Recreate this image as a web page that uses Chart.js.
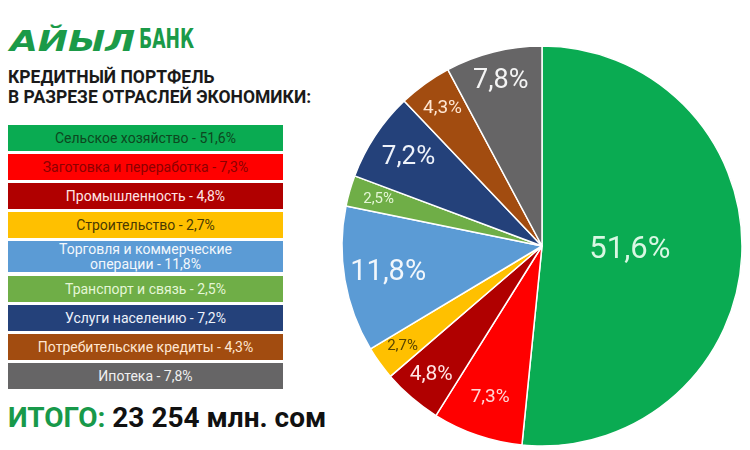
<!DOCTYPE html>
<html>
<head>
<meta charset="utf-8">
<script src="https://cdn.jsdelivr.net/npm/chart.js@4.4.0/dist/chart.umd.min.js"></script>
<style>
  html, body { margin: 0; padding: 0; background: #fff; }
  body { width: 750px; height: 450px; overflow: hidden; position: relative; font-family: Roboto, "Noto Sans", sans-serif; }
  #pie { position: absolute; left: 0; top: 0; }
  .logo { position: absolute; left: 10px; top: 16px; color: #1b9a48; white-space: nowrap; }
  .logo .name { font-family: "DejaVu Sans", sans-serif; font-weight: bold; font-style: italic; font-size: 36px; display: inline-block; transform: scaleY(0.8); transform-origin: left bottom; }
  .logo .bank { font-family: "Liberation Sans Narrow", "DejaVu Sans Condensed", sans-serif; font-weight: bold; font-size: 24px; display: inline-block; margin-left: 4px; transform: scaleX(0.8) scaleY(1.1); transform-origin: left bottom; }
  .title { position: absolute; left: 8px; top: 67px; font-size: 17.5px; font-weight: bold; line-height: 20px; color: #1a1a1a; }
  #legend { position: absolute; left: 8px; top: 125px; width: 275px; }
  .item { height: 26px; margin-bottom: 3px; display: flex; align-items: center; justify-content: center; text-align: center; font-size: 14px; line-height: 15px; }
  .item.tall { height: 31px; margin-top: 2px; margin-bottom: 4px; }
  .total { position: absolute; left: 8px; top: 401px; font-size: 28px; font-weight: bold; color: #111; white-space: nowrap; }
  .total span { color: #18994a; }
</style>
</head>
<body>
<div class="logo"><span class="name">АЙЫЛ</span><span class="bank">БАНК</span></div>
<div class="title">КРЕДИТНЫЙ ПОРТФЕЛЬ<br>В РАЗРЕЗЕ ОТРАСЛЕЙ ЭКОНОМИКИ:</div>
<div id="legend"></div>
<div class="total"><span>ИТОГО:</span> 23 254 млн. сом</div>
<canvas id="pie" width="750" height="450"></canvas>
<script>
// sectors of the loan portfolio, %
const sectors = ['Сельское хозяйство', 'Заготовка и переработка', 'Промышленность', 'Строительство',
    'Торговля и коммерческие операции', 'Транспорт и связь', 'Услуги населению',
    'Потребительские кредиты', 'Ипотека'];
const shares = [51.6, 7.3, 4.8, 2.7, 11.8, 2.5, 7.2, 4.3, 7.8];
const sliceColors = ['#0aab52', '#ff0000', '#b00000', '#ffc000', '#5b9bd5', '#6fae47', '#24417a', '#a24c10', '#666566'];
const legendText = ['#0d4720', '#8c0000', '#ffe4e4', '#4a3a00', '#f2f7fc', '#e4f6d6', '#eef2fa', '#ffe6d2', '#f0f0f0'];
const labelText = ['#d9f7e3', '#ffd6d6', '#ffe4e4', '#5a4600', '#f2f7fc', '#e4f6d6', '#eef2fa', '#ffe6d2', '#f4f4f4'];
const labelSize = [31, 19, 21, 15, 29, 15, 26, 19, 27];
const labelPos = [0.44, 0.8, 0.85, 0.86, 0.78, 0.85, 0.8, 0.85, 0.85];

const fmt = v => v.toFixed(1).replace('.', ',') + '%';

// build the coloured legend blocks
const legend = document.getElementById('legend');
sectors.forEach((s, i) => {
    const d = document.createElement('div');
    d.className = 'item' + (i === 4 ? ' tall' : '');
    d.style.background = sliceColors[i];
    d.style.color = legendText[i];
    if (i === 4) {
        d.innerHTML = 'Торговля и коммерческие<br>операции - ' + fmt(shares[i]);
    } else {
        d.textContent = s + ' - ' + fmt(shares[i]);
    }
    legend.appendChild(d);
});

const sliceLabels = {
    id: 'sliceLabels',
    afterDatasetsDraw(chart) {
        const ctx = chart.ctx;
        const meta = chart.getDatasetMeta(0);
        meta.data.forEach((arc, i) => {
            const p = arc.getProps(['x', 'y', 'startAngle', 'endAngle', 'outerRadius'], true);
            const mid = (p.startAngle + p.endAngle) / 2;
            const r = p.outerRadius * labelPos[i];
            ctx.save();
            ctx.font = labelSize[i] + 'px Roboto';
            ctx.fillStyle = labelText[i];
            ctx.textAlign = 'center';
            ctx.textBaseline = 'middle';
            ctx.fillText(fmt(shares[i]), p.x + Math.cos(mid) * r, p.y + Math.sin(mid) * r);
            ctx.restore();
        });
    }
};

new Chart(document.getElementById('pie'), {
    type: 'pie',
    data: {
        labels: sectors,
        datasets: [{
            data: shares,
            backgroundColor: sliceColors,
            borderColor: '#ffffff',
            borderWidth: 1.5,
            hoverOffset: 0
        }]
    },
    options: {
        responsive: false,
        animation: false,
        radius: 200,
        layout: { padding: { left: 342, right: 8, top: 46, bottom: 4 } },
        plugins: {
            legend: { display: false },
            tooltip: { enabled: false }
        }
    },
    plugins: [sliceLabels]
});
</script>
</body>
</html>
